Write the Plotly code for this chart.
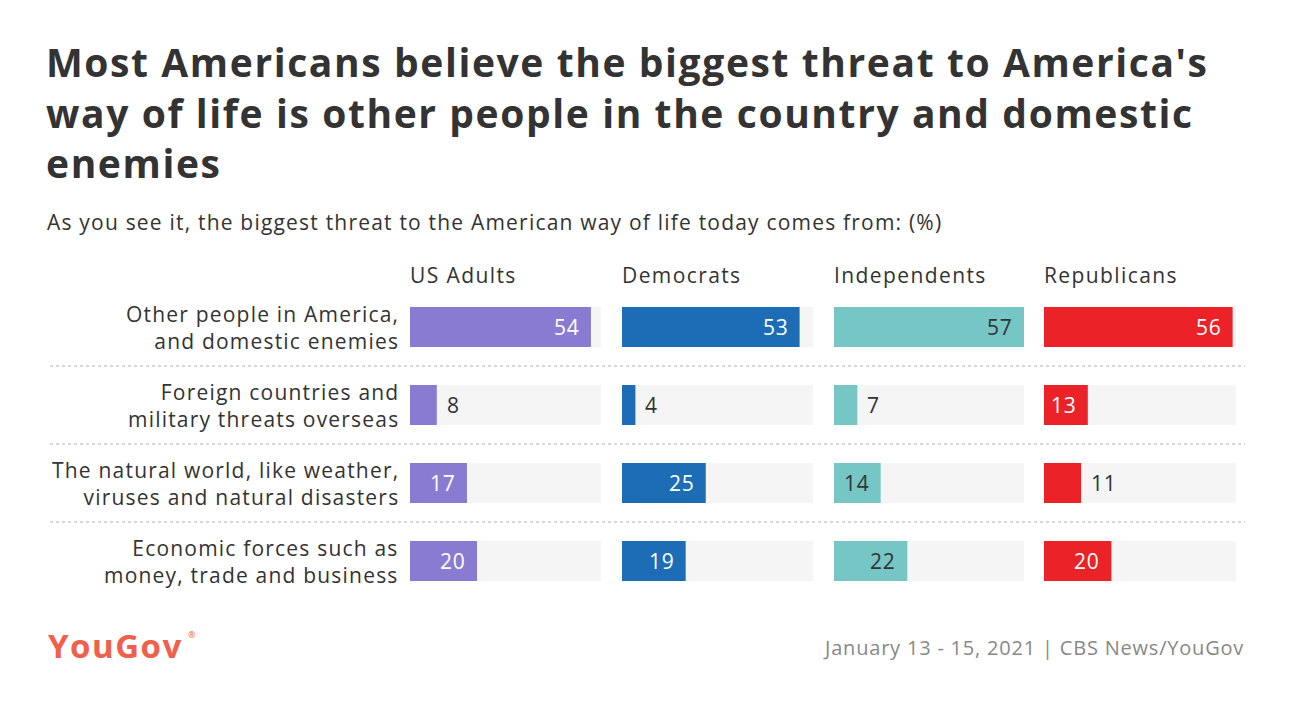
import plotly.graph_objects as go

OFF = 8
W, H = 1306 - 2 * OFF, 708 - 2 * OFF

title_lines = ["Most Americans believe the biggest threat to America's",
               "way of life is other people in the country and domestic",
               "enemies"]
subtitle = "As you see it, the biggest threat to the American way of life today comes from: (%)"
categories = [
    "Other people in America,<br>and domestic enemies",
    "Foreign countries and<br>military threats overseas",
    "The natural world, like weather,<br>viruses and natural disasters",
    "Economic forces such as<br>money, trade and business",
]
groups = ["US Adults", "Democrats", "Independents", "Republicans"]
us_adults = [54, 8, 17, 20]
democrats = [53, 4, 25, 19]
independents = [57, 7, 14, 22]
republicans = [56, 13, 11, 20]
series = [us_adults, democrats, independents, republicans]
colors = ["#8a7bd2", "#1c6db5", "#75c6c5", "#eb2227"]
inside_text_colors = ["#ffffff", "#ffffff", "#333333", "#ffffff"]
source = "January 13 - 15, 2021 | CBS News/YouGov"

FONT = "Open Sans"
TXT = "#333333"

def px(x):
    return (x - OFF) / W

def py(y):
    return 1 - (y - OFF) / H

def spaced(s, ls):
    return "<br>".join('<span style="letter-spacing:%spx">%s</span>' % (ls, part)
                       for part in s.split("<br>"))

panel_x = [(410, 601), (622, 813), (834, 1024), (1044, 1236)]
ydom = [py(600), py(288)]
vmax = max(max(s) for s in series)

fig = go.Figure()
layout_axes = {}
annotations = []
for i, (vals, col) in enumerate(zip(series, colors)):
    ax = "" if i == 0 else str(i + 1)
    xa, ya = "x" + ax, "y" + ax
    bg = [vmax] * len(categories)
    fig.add_trace(go.Bar(
        x=bg, y=categories, orientation="h", xaxis=xa, yaxis=ya,
        marker=dict(color="#f5f5f5", line=dict(width=0)), width=0.513,
        hoverinfo="skip", showlegend=False,
    ))
    fig.add_trace(go.Bar(
        x=vals, y=categories, orientation="h", xaxis=xa, yaxis=ya,
        marker=dict(color=col, line=dict(width=0)), width=0.513,
        showlegend=False,
    ))
    for v, c in zip(vals, categories):
        inside = v >= 12
        annotations.append(dict(
            x=v, y=c, xref=xa, yref=ya, showarrow=False,
            xanchor="right" if inside else "left", yanchor="middle",
            xshift=-9 if inside else 8, text=spaced(str(v), 0.8),
            font=dict(family=FONT, size=21,
                      color=inside_text_colors[i] if inside else TXT)))
    x0, x1 = panel_x[i]
    layout_axes["xaxis" + ax] = dict(domain=[px(x0), px(x1)], range=[0, vmax],
                                      visible=False, fixedrange=True)
    layout_axes["yaxis" + ax] = dict(domain=ydom, autorange="reversed",
                                      visible=False, anchor=xa,
                                      categoryorder="array", categoryarray=categories)

annotations += [
    dict(x=px(44), y=py(33), xref="paper", yref="paper", xanchor="left", yanchor="top",
         text="<b>" + spaced("<br>".join(title_lines), 1.6) + "</b>", showarrow=False,
         align="left", font=dict(family=FONT, size=39, color="#333333")),
    dict(x=px(45), y=py(222), xref="paper", yref="paper", xanchor="left", yanchor="middle",
         text=spaced(subtitle, 1.2), showarrow=False, align="left",
         font=dict(family=FONT, size=21, color=TXT)),
]
for i, g in enumerate(groups):
    annotations.append(dict(x=px(panel_x[i][0]), y=py(275), xref="paper", yref="paper",
                            xanchor="left", yanchor="middle", text=spaced(g, 1.4),
                            showarrow=False, xshift=-2,
                            font=dict(family=FONT, size=21, color=TXT)))
for c in categories:
    annotations.append(dict(x=px(401), y=c, xref="paper", yref="y", xanchor="right",
                            yanchor="middle", text=spaced(c, 1.2), showarrow=False,
                            align="right", font=dict(family=FONT, size=21, color=TXT)))
annotations.append(dict(x=px(46), y=py(645), xref="paper", yref="paper", xanchor="left",
                        yanchor="middle", text="<b>" + spaced("YouGov", 1.5) + "</b>",
                        showarrow=False, font=dict(family=FONT, size=33, color="#f0604b")))
annotations.append(dict(x=px(186), y=py(634), xref="paper", yref="paper", xanchor="left",
                        yanchor="middle", text="®", showarrow=False,
                        font=dict(family=FONT, size=9, color="#f0604b")))
annotations.append(dict(x=px(1246), y=py(647), xref="paper", yref="paper", xanchor="right",
                        yanchor="middle", text=spaced(source, 0.8), showarrow=False,
                        font=dict(family=FONT, size=20, color="#888888")))

shapes = []
for yy in [366, 444, 522]:
    shapes.append(dict(type="line", xref="paper", yref="paper", x0=px(50), x1=px(1245),
                       y0=py(yy), y1=py(yy), line=dict(color="#cccccc", width=1.5, dash="dot")))

fig.update_layout(
    width=W, height=H, margin=dict(l=0, r=0, t=0, b=0),
    paper_bgcolor="white", plot_bgcolor="white",
    barmode="overlay", bargap=0.487,
    annotations=annotations, shapes=shapes,
    font=dict(family=FONT, color=TXT),
    **layout_axes,
)

fig.write_html("out.html")
